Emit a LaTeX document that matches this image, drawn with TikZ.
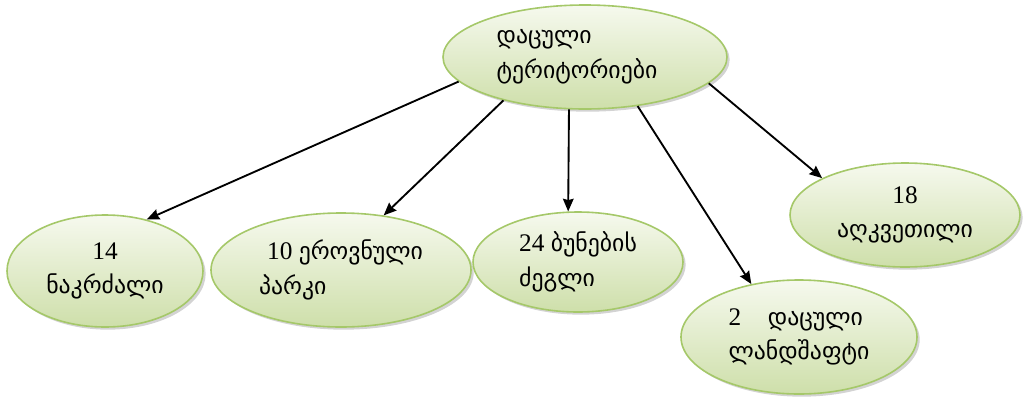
\documentclass[tikz,border=0pt]{standalone}
\usepackage{fontspec}
\setmainfont{Liberation Serif}
\newfontfamily\geofont[Script=Georgian]{DejaVu Sans}
\newcommand{\ka}[1]{{\geofont\fontsize{17.8}{26}\selectfont #1}}
\usetikzlibrary{arrows.meta,shapes.geometric,shadows}

\definecolor{elfill}{RGB}{206,223,170}
\definecolor{eltop}{RGB}{246,249,238}
\definecolor{eldraw}{RGB}{165,200,105}

\tikzset{
        oval/.style={ellipse, draw=eldraw, line width=1.2pt, inner sep=0pt,
                top color=eltop, bottom color=elfill,
                drop shadow={shadow xshift=2pt, shadow yshift=-2pt, opacity=0.35},
                font=\fontsize{19}{26}\selectfont},
        arr/.style={-{Stealth[length=9.5pt,width=8pt,inset=1pt]}, line width=1.4pt}
}

\begin{document}
\begin{tikzpicture}[x=0.75pt, y=-0.75pt]
        \useasboundingbox (0,0) rectangle (1024,397);

        % horni elipsa
        \node[oval, minimum width=284*0.75pt, minimum height=104*0.75pt, align=left]
                (dt) at (585,57) {\ka{დაცული}\\\ka{ტერიტორიები}\hspace*{12pt}};

        % spodni elipsy
        \node[oval, minimum width=196*0.75pt, minimum height=112*0.75pt, align=center]
                (nak) at (105,271) {14\\\ka{ნაკრძალი}};
        \node[oval, minimum width=260*0.75pt, minimum height=114*0.75pt, align=left]
                (erp) at (341,270) {\hspace{6pt}10 \ka{ეროვნული}\\\ka{პარკი}};
        \node[oval, minimum width=210*0.75pt, minimum height=100*0.75pt, align=left]
                (bzd) at (578,262) {24 \ka{ბუნების}\\\ka{ძეგლი}};
        \node[oval, minimum width=236*0.75pt, minimum height=114*0.75pt, align=left]
                (dl) at (799,337) {2\hspace{20pt}\ka{დაცული}\\\ka{ლანდშაფტი}};
        \node[oval, minimum width=230*0.75pt, minimum height=104*0.75pt, align=center]
                (akv) at (905,215) {18\\\ka{აღკვეთილი}};

        % sipky
        \draw[arr] (dt.191) -- (nak.51);
        \draw[arr] (dt.208) -- (erp.52);
        \draw[arr] (dt.253) -- (bzd.101);
        \draw[arr] (dt.317) -- (dl.132);
        \draw[arr] (dt.348) -- (akv.156);
\end{tikzpicture}
\end{document}
